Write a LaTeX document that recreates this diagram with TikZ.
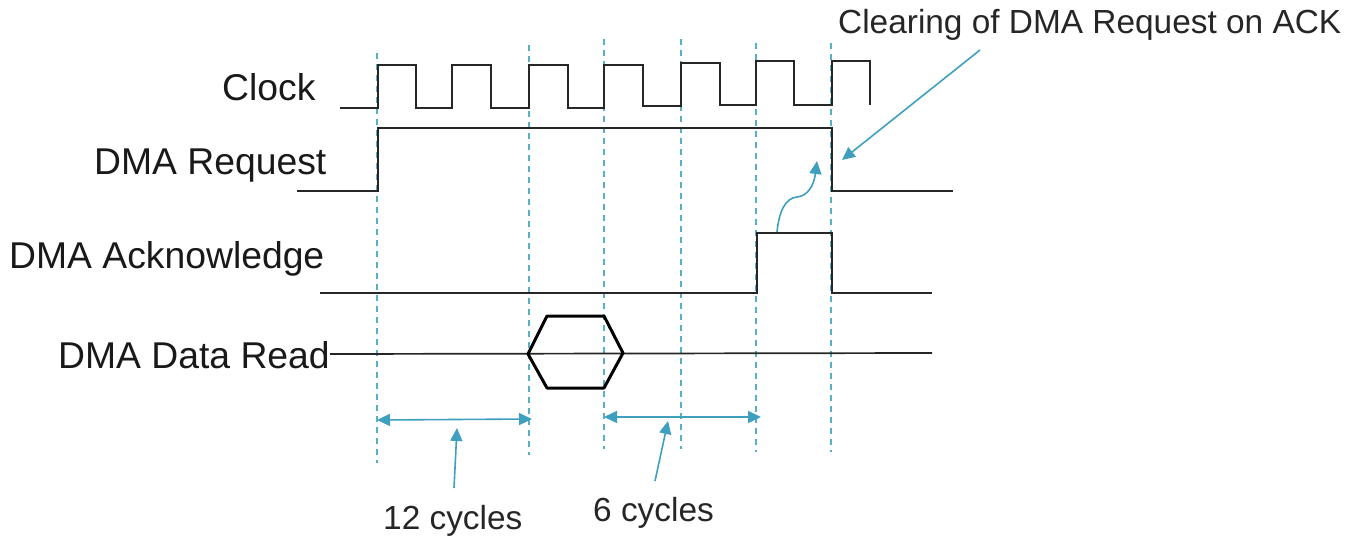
\documentclass[tikz,border=0pt]{standalone}
\usepackage{fontspec}
\setmainfont{Liberation Sans}
\usetikzlibrary{arrows.meta}
\definecolor{myblue}{RGB}{62,160,190}
\begin{document}
\begin{tikzpicture}[x=1pt,y=-1pt]
\tikzstyle{mywave} = [line width=1.7pt, black!85, line join=miter] % signal line style
\tikzstyle{mygrid} = [myblue!85, line width=1.5pt, dash pattern=on 6pt off 5pt] % cycle marker style
\tikzstyle{myarrow} = [myblue, line width=1.6pt, -{Triangle[length=13pt,width=12pt]}] % callout arrow style
\tikzstyle{myspan} = [myblue, line width=1.6pt, {Triangle[length=13pt,width=12pt]}-{Triangle[length=13pt,width=12pt]}] % two-way arrow style
\tikzstyle{mylabel} = [inner sep=0pt, font=\fontsize{37.3pt}{42pt}\selectfont, text=black!90] % signal name style
\tikzstyle{mynote} = [inner sep=0pt, font=\fontsize{33.4pt}{38pt}\selectfont, text=black!85] % note style
\useasboundingbox (0,0) rectangle (1359,538);

% вертикальные линии
\foreach \name/\x/\ya/\yb in {a/377/53/463, b/529/45/455, c/604/39/449, d/681/39/449, e/756/43/452, f/831/43/452}
    \draw[mygrid] (\x,\ya) coordinate (\name-top) -- (\x,\yb) coordinate (\name-bottom);

% сигналы
\draw[mywave] (340,108) -- (378,108) -- (378,65) -- (416,65) -- (416,108) -- (452,108) -- (452,65) -- (491,65) -- (491,108)
    -- (529,108) -- (529,65) -- (568,65) -- (568,108) -- (604,108) -- (604,65) -- (643,65) -- (643,106) -- (681,106)
    -- (681,63) -- (720,63) -- (720,105) -- (756,105) -- (756,61) -- (794,61) -- (794,105) -- (832,105) -- (832,61)
    -- (870,61) -- (870,105);
\draw[mywave] (297,191) -- (378,191) -- (378,128) -- (832,128) -- (832,191) -- (953,191);
\draw[mywave] (320,293) -- (757,293) -- (757,233) -- (832,233) -- (832,293) -- (932,293);
\draw[mywave] (330,354) -- (932,353);
\draw[black, line width=3pt, line join=round] (528,354) -- (547,316) -- (604,316) -- (623,353) -- (604,388) -- (547,388) -- cycle;

% подписи
\node[mylabel, anchor=base west] (clock) at (222,100) {Clock};
\node[mylabel, anchor=base west] (request) at (94,174) {DMA Request};
\node[mylabel, anchor=base west] (ack) at (9,268) {DMA Acknowledge};
\node[mylabel, anchor=base west] (read) at (58,368) {DMA Data Read};
\node[mynote, anchor=base west] (clearing) at (838,33) {Clearing of DMA Request on ACK};
\node[mynote, anchor=base west] (twelve) at (383,529) {12 cycles};
\node[mynote, anchor=base west] (six) at (593,521) {6 cycles};

% стрелки
\coordinate (clear-start) at (980,50);
\coordinate (clear-end) at (842,160);
\coordinate (pulse-top) at (777,232);
\coordinate (pulse-end) at (817,161);
\draw[myarrow] (clear-start) -- (clear-end);
\draw[myarrow] (pulse-top) .. controls (779,212) and (785,198) .. (797,197) .. controls (808,196) and (814,185) .. (pulse-end);
\coordinate (twelve-left) at (377,420);
\coordinate (twelve-right) at (532,419);
\coordinate (six-left) at (604,417);
\coordinate (six-right) at (761,417);
\draw[myspan] (twelve-left) -- (twelve-right);
\draw[myspan] (six-left) -- (six-right);
\coordinate (twelve-tail) at (454,488);
\coordinate (twelve-head) at (457,428);
\coordinate (six-tail) at (655,481);
\coordinate (six-head) at (668,421);
\draw[myarrow] (twelve-tail) -- (twelve-head);
\draw[myarrow] (six-tail) -- (six-head);
\end{tikzpicture}
\end{document}
